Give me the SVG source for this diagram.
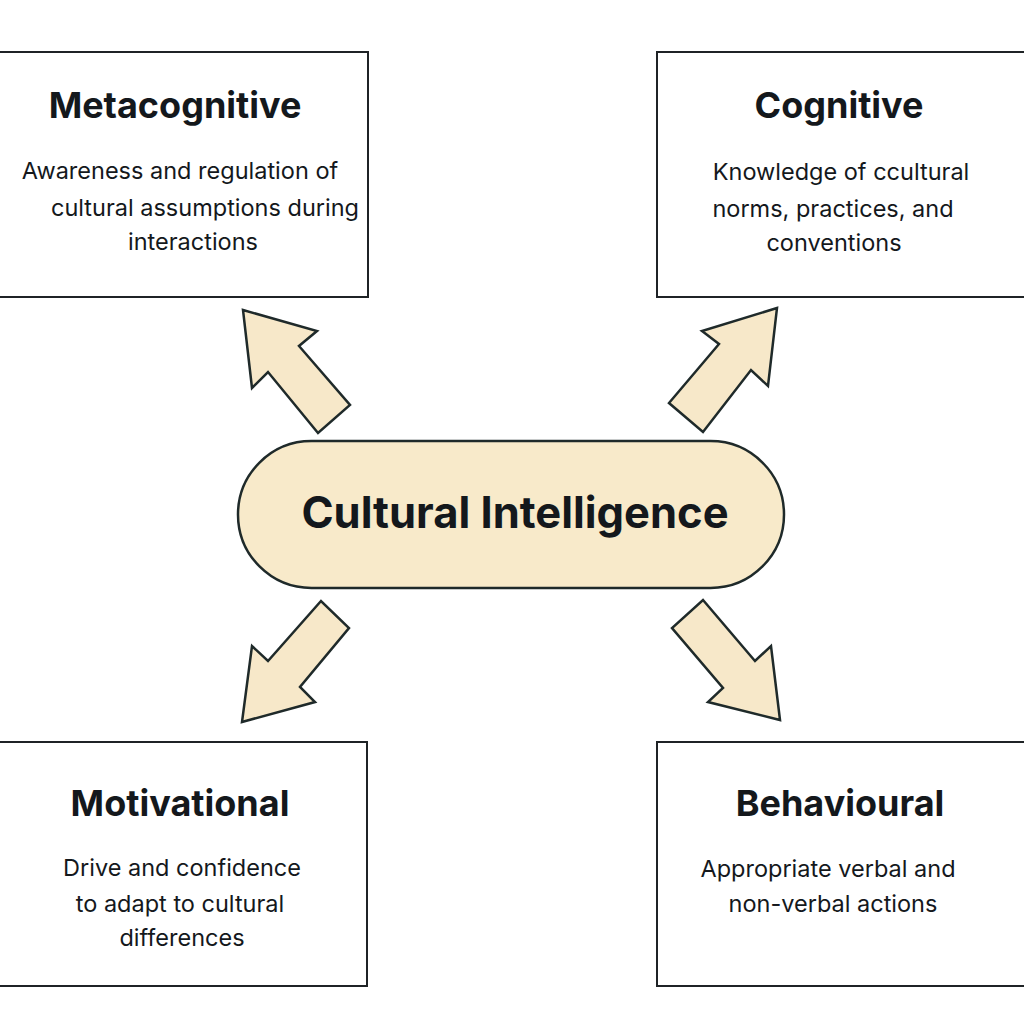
<svg xmlns="http://www.w3.org/2000/svg" width="1024" height="1024" viewBox="0 0 1024 1024">
<style>
.box{fill:#ffffff;stroke:#1f2326;stroke-width:2}
.arrow{fill:#f7e8c9;stroke:#1f2a2a;stroke-width:2.5;stroke-linejoin:miter}
.pill{fill:#f8eaca;stroke:#1f2a2a;stroke-width:2.5}
.h{font-family:Inter,"Noto Sans",sans-serif;font-weight:700;font-size:36px;fill:#14181c;text-anchor:middle}
.b{font-family:Inter,"Noto Sans",sans-serif;font-weight:400;font-size:23.5px;fill:#14181c;text-anchor:middle}
.c{font-family:Inter,"Noto Sans",sans-serif;font-weight:700;font-size:43.5px;fill:#14181c;text-anchor:middle}
</style>
<rect width="1024" height="1024" fill="#ffffff"/>
<g id="connectors">
<polygon class="arrow" points="243,310 317,331 299,346 350,405 318,433 268,372 252,388"/>
<polygon class="arrow" points="777,308 702,331 719,344 669,403 703,432 751,370 768,386"/>
<polygon class="arrow" points="242,722 315,702 300,687 349,628 321,601 268,661 252,646"/>
<polygon class="arrow" points="780,720 771,646 755,661 703,600 672,628 723,688 708,702"/>
</g>
<g id="node-metacognitive">
<rect class="box" x="-2" y="52" width="370" height="245"/>
<text class="h" x="175" y="118">Metacognitive</text>
<text class="b" x="180" y="179">Awareness and regulation of</text>
<text class="b" x="205" y="216">cultural assumptions during</text>
<text class="b" x="193" y="250">interactions</text>
</g>
<g id="node-cognitive">
<rect class="box" x="657" y="52" width="370" height="245"/>
<text class="h" x="839" y="118">Cognitive</text>
<text class="b" x="841" y="180">Knowledge of ccultural</text>
<text class="b" x="833" y="217">norms, practices, and</text>
<text class="b" x="834" y="251">conventions</text>
</g>
<g id="node-motivational">
<rect class="box" x="-2" y="742" width="369" height="244"/>
<text class="h" x="180" y="816">Motivational</text>
<text class="b" x="182" y="876">Drive and confidence</text>
<text class="b" x="180" y="912">to adapt to cultural</text>
<text class="b" x="182" y="946">differences</text>
</g>
<g id="node-behavioural">
<rect class="box" x="657" y="742" width="370" height="244"/>
<text class="h" x="840" y="816">Behavioural</text>
<text class="b" x="828" y="877">Appropriate verbal and</text>
<text class="b" x="833" y="912">non-verbal actions</text>
</g>
<g id="node-center">
<rect class="pill" x="238" y="441" width="546" height="147" rx="73.5" ry="73.5"/>
<text class="c" x="515" y="528">Cultural Intelligence</text>
</g>
</svg>
